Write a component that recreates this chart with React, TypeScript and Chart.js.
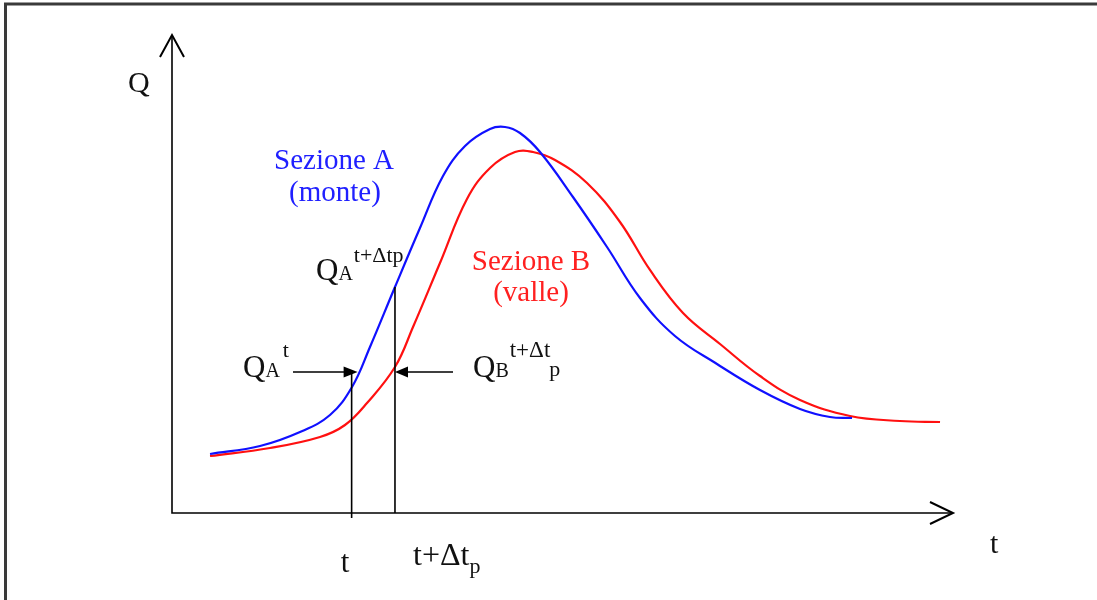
import { useEffect, useRef } from "react";
import { Chart, registerables } from "chart.js";

Chart.register(...registerables);

// Sezione A (monte) – time and discharge
const blueT = [4.87, 11.27, 16.39, 20.23, 23.05, 25.35, 28.55, 31.75, 34.7, 37.52, 40.72, 42.64, 44.56, 47.12, 51.34, 55.7, 59.92, 64.4, 69.78, 75.29, 80.41, 84.25, 87.07];
const blueQ = [12.34, 14.02, 16.95, 20.5, 26.36, 34.73, 47.28, 59.62, 70.5, 76.78, 80.33, 80.75, 79.5, 75.52, 66.11, 55.65, 44.98, 37.03, 31.17, 25.73, 21.76, 20.08, 19.87];

// Sezione B (valle)
const redT = [4.87, 12.55, 18.95, 22.15, 24.97, 28.55, 30.86, 34.31, 37.77, 40.72, 43.92, 46.22, 49.04, 53.14, 57.36, 61.2, 65.43, 70.17, 75.29, 80.41, 86.81, 93.21, 98.34];
const redQ = [11.92, 13.6, 15.9, 18.41, 23.01, 30.54, 38.91, 52.3, 65.69, 72.18, 75.52, 75.52, 73.85, 69.04, 60.88, 50.84, 41.84, 35.36, 28.66, 23.64, 20.29, 19.25, 19.04];

// marked instants t and t+Δtp, with the discharge where each marker line stops
const markT = [23.0, 28.55];
const markTopQ = [29.5, 47.3];
const arrowQ = 29.5;

const SERIF = '"Liberation Serif", "DejaVu Serif", serif';

function font(size: number) {
  return `${size}px ${SERIF}`;
}

const overlay = {
  id: "overlay",
  beforeDraw(chart: any) {
    const ctx = chart.ctx as CanvasRenderingContext2D;
    ctx.save();
    ctx.fillStyle = "#ffffff";
    ctx.fillRect(0, 0, chart.width, chart.height);
    // outer frame
    ctx.strokeStyle = "#3a3a3a";
    ctx.lineWidth = 3;
    ctx.beginPath();
    ctx.moveTo(5.5, chart.height + 2);
    ctx.lineTo(5.5, 4);
    ctx.lineTo(chart.width + 2, 4);
    ctx.stroke();
    ctx.restore();
  },
  afterDraw(chart: any) {
    const ctx = chart.ctx as CanvasRenderingContext2D;
    const { left, right, top, bottom } = chart.chartArea;
    const xs = chart.scales.x;
    const ys = chart.scales.y;
    ctx.save();
    ctx.strokeStyle = "#000";
    ctx.fillStyle = "#000";
    ctx.lineWidth = 1.6;
    // axes
    ctx.beginPath();
    ctx.moveTo(left, top);
    ctx.lineTo(left, bottom);
    ctx.lineTo(right, bottom);
    ctx.stroke();
    // arrowheads (open)
    ctx.lineWidth = 2;
    ctx.beginPath();
    ctx.moveTo(left - 12, top + 22);
    ctx.lineTo(left, top);
    ctx.lineTo(left + 12, top + 22);
    ctx.moveTo(right - 23, bottom - 11);
    ctx.lineTo(right, bottom);
    ctx.lineTo(right - 23, bottom + 11);
    ctx.stroke();

    // vertical marker lines
    ctx.lineWidth = 1.6;
    const x1 = xs.getPixelForValue(markT[0]);
    const x2 = xs.getPixelForValue(markT[1]);
    ctx.beginPath();
    ctx.moveTo(x1, ys.getPixelForValue(markTopQ[0]));
    ctx.lineTo(x1, bottom + 5);
    ctx.moveTo(x2, ys.getPixelForValue(markTopQ[1]));
    ctx.lineTo(x2, bottom);
    ctx.stroke();

    // horizontal arrows
    const ay = ys.getPixelForValue(arrowQ);
    const tipA = x1 + 6;
    const tipB = x2;
    ctx.beginPath();
    ctx.moveTo(293, ay);
    ctx.lineTo(tipA - 10, ay);
    ctx.moveTo(453, ay);
    ctx.lineTo(tipB + 10, ay);
    ctx.stroke();
    ctx.beginPath();
    ctx.moveTo(tipA, ay);
    ctx.lineTo(tipA - 14, ay - 5.5);
    ctx.lineTo(tipA - 14, ay + 5.5);
    ctx.closePath();
    ctx.fill();
    ctx.beginPath();
    ctx.moveTo(tipB, ay);
    ctx.lineTo(tipB + 13, ay - 5.5);
    ctx.lineTo(tipB + 13, ay + 5.5);
    ctx.closePath();
    ctx.fill();

    // texts
    ctx.textBaseline = "alphabetic";
    const txt = (s: string, x: number, y: number, size: number, color = "#111", align: CanvasTextAlign = "left") => {
      ctx.font = font(size);
      ctx.fillStyle = color;
      ctx.textAlign = align;
      ctx.fillText(s, x, y);
      ctx.textAlign = "left";
      ctx.font = font(size);
      return x + ctx.measureText(s).width;
    };

    txt("Q", 128, 92, 30);

    txt("Sezione A", 334, 169, 29, "#2020ff", "center");
    txt("(monte)", 335, 201, 29, "#2020ff", "center");
    txt("Sezione B", 531, 270, 29, "#ff2020", "center");
    txt("(valle)", 531, 301, 29, "#ff2020", "center");

    // Q_A^{t+Δtp}
    let e = txt("Q", 316, 280, 31);
    e = txt("A", e, 280, 20);
    txt("t+Δtp", e + 1, 262, 22);

    // Q_A^t
    e = txt("Q", 243, 377, 31);
    e = txt("A", e, 377, 20);
    txt("t", e + 3, 357, 22);

    // Q_B^{t+Δt}_p
    e = txt("Q", 473, 377, 31);
    e = txt("B", e, 377, 20);
    e = txt("t+Δt", e + 1, 357, 23);
    txt("p", e - 1, 376, 22);

    // time labels
    txt("t", 345, 572, 31, "#111", "center");
    e = txt("t+Δt", 413, 565, 32);
    txt("p", e, 573, 22);
    txt("t", 990, 553, 30);

    ctx.restore();
  },
};

export default function App() {
  const ref = useRef<HTMLCanvasElement | null>(null);
  useEffect(() => {
    if (!ref.current) return;
    const chart = new Chart(ref.current, {
      type: "line",
      data: {
        datasets: [
          {
            label: "Sezione A (monte)",
            data: blueT.map((t, i) => ({ x: t, y: blueQ[i] })),
            borderColor: "#1010ff",
            borderWidth: 2.2,
            pointRadius: 0,
            tension: 0.4,
            fill: false,
          },
          {
            label: "Sezione B (valle)",
            data: redT.map((t, i) => ({ x: t, y: redQ[i] })),
            borderColor: "#ff1010",
            borderWidth: 2.2,
            pointRadius: 0,
            tension: 0.4,
            fill: false,
          },
        ],
      },
      options: {
        responsive: false,
        animation: false,
        devicePixelRatio: 1,
        layout: { padding: { left: 172, top: 35, right: 144, bottom: 87 } },
        scales: {
          x: { type: "linear", min: 0, max: 100, display: false },
          y: { type: "linear", min: 0, max: 100, display: false },
        },
        plugins: { legend: { display: false }, tooltip: { enabled: false } },
        events: [],
      },
      plugins: [overlay],
    });
    return () => chart.destroy();
  }, []);
  return (
    <canvas
      ref={ref}
      width={1097}
      height={600}
      style={{ position: "fixed", left: 0, top: 0, width: 1097, height: 600 }}
    />
  );
}
